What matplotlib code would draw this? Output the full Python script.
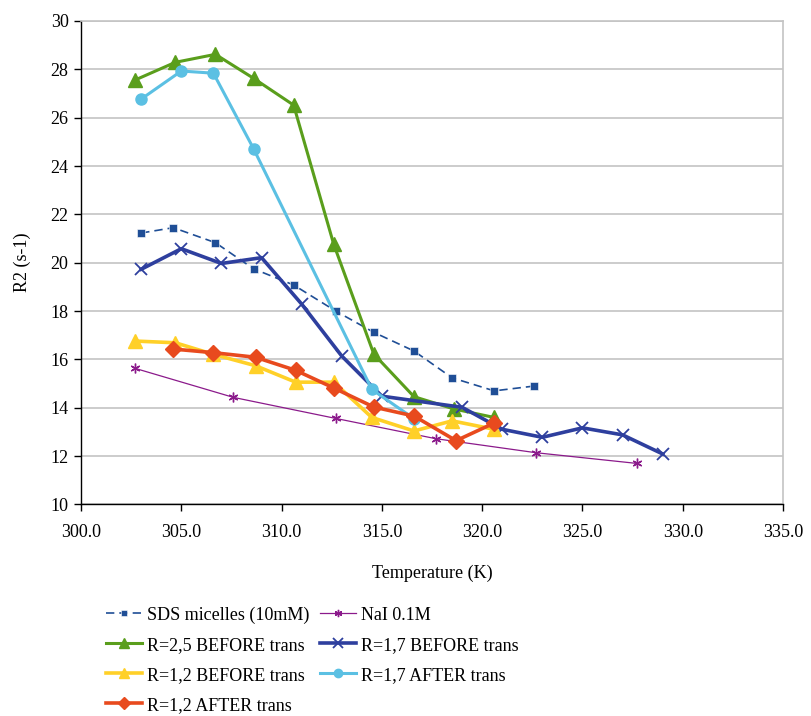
import matplotlib
matplotlib.use("Agg")
import matplotlib.pyplot as plt

plt.rcParams['font.family'] = ['Liberation Serif', 'DejaVu Serif']

# Temperature (K) and R2 (s-1) for each sample
sds_T = [303.0, 304.6, 306.7, 308.6, 310.6, 312.7, 314.6, 316.6, 318.5, 320.6, 322.6]
sds_R2 = [21.23, 21.45, 20.83, 19.75, 19.08, 18.00, 17.12, 16.35, 15.24, 14.70, 14.90]

nai_T = [302.7, 307.6, 312.7, 317.7, 322.7, 327.7]
nai_R2 = [15.63, 14.43, 13.56, 12.72, 12.14, 11.70]

r25b_T = [302.7, 304.7, 306.7, 308.6, 310.6, 312.6, 314.6, 316.6, 318.6, 320.6]
r25b_R2 = [27.56, 28.29, 28.62, 27.63, 26.52, 20.76, 16.22, 14.46, 13.95, 13.60]

r17b_T = [303.0, 305.0, 307.0, 309.0, 311.0, 313.0, 315.0, 319.0, 321.0, 323.0, 325.0, 327.0, 329.0]
r17b_R2 = [19.73, 20.58, 19.97, 20.21, 18.29, 16.14, 14.48, 14.02, 13.11, 12.78, 13.17, 12.88, 12.09]

r12b_T = [302.7, 304.7, 306.6, 308.7, 310.7, 312.6, 314.5, 316.6, 318.5, 320.6]
r12b_R2 = [16.76, 16.69, 16.21, 15.74, 15.06, 15.06, 13.60, 13.04, 13.46, 13.11]

r17a_T = [303.0, 305.0, 306.6, 308.6, 314.5, 316.6]
r17a_R2 = [26.77, 27.93, 27.84, 24.72, 14.76, 13.55]

r12a_T = [304.6, 306.6, 308.7, 310.7, 312.6, 314.6, 316.6, 318.7, 320.6]
r12a_R2 = [16.43, 16.28, 16.09, 15.55, 14.82, 14.03, 13.66, 12.64, 13.37]

labels = ["SDS micelles (10mM)", "NaI 0.1M", "R=2,5 BEFORE trans", "R=1,7 BEFORE trans",
          "R=1,2 BEFORE trans", "R=1,7 AFTER trans", "R=1,2 AFTER trans"]

x_ticks = [300.0, 305.0, 310.0, 315.0, 320.0, 325.0, 330.0, 335.0]
y_ticks = [10, 12, 14, 16, 18, 20, 22, 24, 26, 28, 30]

fig = plt.figure(figsize=(8.12, 7.16), dpi=100)
ax = fig.add_axes([0.0998, 0.2954, 0.8645, 0.6753])

h = {}
h[0], = ax.plot(sds_T, sds_R2, color='#1f4e96', lw=1.2, ls=(0, (5, 3)), marker='s', ms=6,
                 mec='white', mew=0.4, label=labels[0])
h[1], = ax.plot(nai_T, nai_R2, color='#8b1a8b', lw=0.9, marker=(6, 2, 0), ms=7, mew=1.0,
                 label=labels[1])
h[2], = ax.plot(r25b_T, r25b_R2, color='#5a9e1c', lw=2.2, marker='^', ms=10.5, label=labels[2])
h[3], = ax.plot(r17b_T, r17b_R2, color='#2e3f9e', lw=2.6, marker='x', ms=9, mew=1.3, label=labels[3])
h[4], = ax.plot(r12b_T, r12b_R2, color='#ffd028', lw=2.6, marker='^', ms=10, label=labels[4])
h[5], = ax.plot(r17a_T, r17a_R2, color='#5bc0e3', lw=2.2, marker='o', ms=8, label=labels[5])
h[6], = ax.plot(r12a_T, r12a_R2, color='#e84a1e', lw=2.6, marker='D', ms=8, label=labels[6])

ax.set_xlim(300, 335)
ax.set_ylim(10, 30)
ax.set_xticks(x_ticks)
ax.set_xticklabels([f"{v:.1f}" for v in x_ticks])
ax.set_yticks(y_ticks)
ax.yaxis.grid(True, color='#c4c4c4', lw=1.2)
ax.set_axisbelow(True)
for side in ('top', 'right'):
    ax.spines[side].set_color('#c4c4c4')
    ax.spines[side].set_linewidth(1.2)
for side in ('left', 'bottom'):
    ax.spines[side].set_color('black')
    ax.spines[side].set_linewidth(1.0)
ax.tick_params(axis='both', direction='out', length=5, width=1.0, labelsize=13, pad=4)
ax.tick_params(axis='x', pad=9)

ax.set_xlabel("Temperature (K)", fontsize=13, labelpad=17)
ax.set_ylabel("R2 (s-1)", fontsize=13, labelpad=14)

# Excel-style legend: entries read row by row across two columns
order = [0, 2, 4, 6, 1, 3, 5]
fig.legend([h[i] for i in order], [labels[i] for i in order], ncol=2, frameon=False,
           loc='upper left', bbox_to_anchor=(0.131, 0.153), borderaxespad=0,
           fontsize=13, handlelength=2.0, handletextpad=0.25, columnspacing=0.6,
           labelspacing=0.72, borderpad=0, markerscale=0.75)

fig.savefig("out.png", dpi=100)
